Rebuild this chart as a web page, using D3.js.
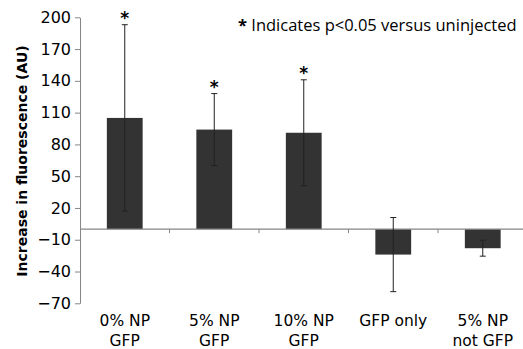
<!DOCTYPE html>
<html>
<head>
<meta charset="utf-8">
<script src="https://cdn.jsdelivr.net/npm/d3@7"></script>
<style>
  body { margin: 0; background: #fff; }
  svg { display: block; }
</style>
</head>
<body>
<div id="vis"></div>
<script>
// values
const categories = [["0% NP", "GFP"], ["5% NP", "GFP"], ["10% NP", "GFP"], ["GFP only"], ["5% NP", "not GFP"]];
const means = [105, 94, 91, -24, -18];
const errors = [88, 34, 50, 35, 7.5];
const significant = [true, true, true, false, false];
const yTicks = [200, 170, 140, 110, 80, 50, 20, -10, -40, -70];

const width = 523, height = 349;
const margin = { top: 17.3, right: -4.5, bottom: 45.7, left: 80 };
const labelFont = "'DejaVu Sans', Verdana, sans-serif";

const svg = d3.select("#vis")
  .append("svg")
  .attr("width", width)
  .attr("height", height);

const x = d3.scaleBand()
  .domain(d3.range(categories.length))
  .range([margin.left, width - margin.right])
  .paddingInner(0.6)
  .paddingOuter(0.3);

const y = d3.scaleLinear()
  .domain([-70, 200])
  .range([height - margin.bottom, margin.top]);

const axisColor = "#868686";

// y axis
const yAxis = svg.append("g")
  .attr("transform", "translate(" + margin.left + ",0)")
  .call(d3.axisLeft(y).tickValues(yTicks).tickSize(5).tickPadding(4).tickSizeOuter(0));
yAxis.attr("font-family", null).attr("font-size", null);
yAxis.select(".domain").attr("stroke", axisColor);
yAxis.selectAll(".tick line").attr("stroke", axisColor);
yAxis.selectAll(".tick text")
  .attr("fill", "#000")
  .style("font-family", labelFont)
  .style("font-size", "16px");

// bars
svg.append("g")
  .selectAll("rect")
  .data(means)
  .enter()
  .append("rect")
  .attr("x", (d, i) => x(i))
  .attr("width", x.bandwidth())
  .attr("y", d => y(Math.max(0, d)))
  .attr("height", d => Math.abs(y(d) - y(0)))
  .attr("fill", "#333333");

// x axis at zero, ticks between categories
const step = x.step();
const boundaries = d3.range(1, categories.length).map(i => margin.left + i * step);
svg.append("line")
  .attr("x1", margin.left)
  .attr("x2", width - margin.right)
  .attr("y1", y(0))
  .attr("y2", y(0))
  .attr("stroke", axisColor)
  .attr("stroke-width", 1.2);
svg.append("g")
  .selectAll("line")
  .data(boundaries)
  .enter()
  .append("line")
  .attr("x1", d => d)
  .attr("x2", d => d)
  .attr("y1", y(0))
  .attr("y2", y(0) + 4)
  .attr("stroke", axisColor);

// error bars
const err = svg.append("g")
  .selectAll("g")
  .data(means)
  .enter()
  .append("g")
  .attr("stroke", "#222")
  .attr("stroke-width", 1);
err.append("line")
  .attr("x1", (d, i) => x(i) + x.bandwidth() / 2)
  .attr("x2", (d, i) => x(i) + x.bandwidth() / 2)
  .attr("y1", (d, i) => y(d + errors[i]))
  .attr("y2", (d, i) => y(d - errors[i]));
err.append("line")
  .attr("x1", (d, i) => x(i) + x.bandwidth() / 2 - 3)
  .attr("x2", (d, i) => x(i) + x.bandwidth() / 2 + 3)
  .attr("y1", (d, i) => y(d + errors[i]))
  .attr("y2", (d, i) => y(d + errors[i]));
err.append("line")
  .attr("x1", (d, i) => x(i) + x.bandwidth() / 2 - 3)
  .attr("x2", (d, i) => x(i) + x.bandwidth() / 2 + 3)
  .attr("y1", (d, i) => y(d - errors[i]))
  .attr("y2", (d, i) => y(d - errors[i]));

// significance stars
svg.append("g")
  .selectAll("text")
  .data(means.map((d, i) => ({ i, top: d + errors[i] })).filter(d => significant[d.i]))
  .enter()
  .append("text")
  .attr("x", d => x(d.i) + x.bandwidth() / 2)
  .attr("y", d => y(d.top) - 1)
  .attr("text-anchor", "middle")
  .style("font-family", labelFont)
  .style("font-weight", "bold")
  .style("font-size", "17px")
  .text("*");

// category labels
const catLabels = svg.append("g")
  .selectAll("text")
  .data(categories)
  .enter()
  .append("text")
  .attr("x", (d, i) => x(i) + x.bandwidth() / 2)
  .attr("y", 326)
  .attr("text-anchor", "middle")
  .style("font-family", labelFont)
  .style("font-size", "15.5px");
catLabels.selectAll("tspan")
  .data(d => d)
  .enter()
  .append("tspan")
  .attr("x", function() { return this.parentNode.getAttribute("x"); })
  .attr("dy", (d, j) => j === 0 ? 0 : 20)
  .text(d => d);

// y axis title
svg.append("text")
  .attr("transform", "translate(27," + 161 + ") rotate(-90)")
  .attr("text-anchor", "middle")
  .style("font-family", labelFont)
  .style("font-weight", "bold")
  .style("font-size", "14px")
  .text("Increase in fluorescence (AU)");

// legend note
const note = svg.append("text")
  .attr("x", 238)
  .attr("y", 31)
  .style("font-family", "'Open Sans', sans-serif")
  .style("font-size", "16.5px");
note.append("tspan").style("font-weight", "bold").text("* ");
note.append("tspan").text("Indicates p<0.05 versus uninjected");
</script>
</body>
</html>
